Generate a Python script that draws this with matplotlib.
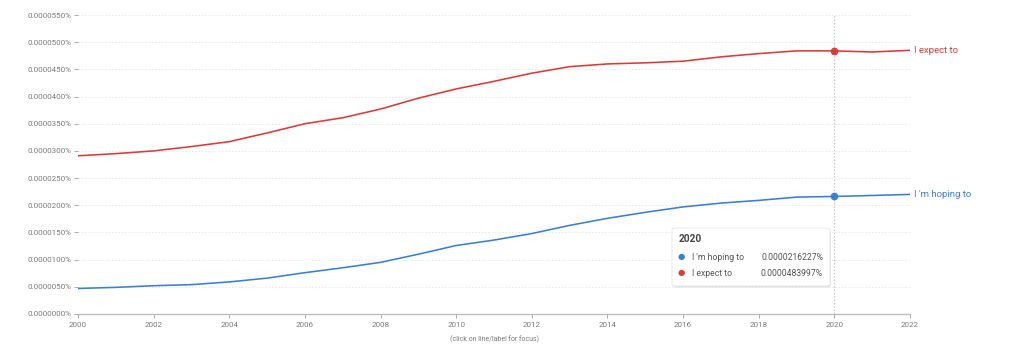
import matplotlib
matplotlib.use("Agg")
import matplotlib.pyplot as plt
from matplotlib.patches import FancyBboxPatch
from matplotlib.ticker import FuncFormatter, MultipleLocator

plt.rcParams['font.family'] = ['Roboto', 'DejaVu Sans']

years = list(range(2000, 2023))
expect_to = [0.0000291, 0.0000295, 0.0000300, 0.0000308, 0.0000317, 0.0000333,
             0.0000350, 0.0000361, 0.0000377, 0.0000397, 0.0000414, 0.0000428,
             0.0000443, 0.0000455, 0.0000460, 0.0000462, 0.0000465, 0.0000473,
             0.0000479, 0.0000484, 0.0000483997, 0.0000482, 0.0000485]
hoping_to = [0.0000047, 0.0000049, 0.0000052, 0.0000054, 0.0000059, 0.0000066,
             0.0000076, 0.0000085, 0.0000095, 0.0000110, 0.0000126, 0.0000136,
             0.0000148, 0.0000163, 0.0000176, 0.0000187, 0.0000197, 0.0000204,
             0.0000209, 0.0000215, 0.0000216227, 0.0000218, 0.0000220]
series_names = ["I 'm hoping to", "I expect to"]
focus_year = 2020
x_ticks = list(range(2000, 2023, 2))

RED = '#db3a3a'
BLUE = '#3a7fd6'
GRAY = '#7a7a7a'

fig = plt.figure(figsize=(10.24, 3.59), dpi=100)
ax = fig.add_axes([78/1024, 45/359, (910-78)/1024, (314-15)/359])

ax.plot(years, hoping_to, color=BLUE, lw=1.15, solid_joinstyle='round',
        solid_capstyle='round')
ax.plot(years, expect_to, color=RED, lw=1.15, solid_joinstyle='round',
        solid_capstyle='round')

fi = years.index(focus_year)
ax.axvline(focus_year, color='#c8c8c8', lw=0.8, ls=(0, (1.5, 1.5)), zorder=1)
ax.plot([focus_year], [hoping_to[fi]], 'o', color=BLUE, ms=4.5, zorder=5)
ax.plot([focus_year], [expect_to[fi]], 'o', color=RED, ms=4.5, zorder=5)

ax.set_xlim(2000, 2022)
ax.set_ylim(0, 0.000055)
ax.yaxis.set_major_locator(MultipleLocator(0.000005))
ax.yaxis.set_major_formatter(FuncFormatter(lambda v, p: f"{v:.7f}%"))
ax.set_xticks(x_ticks)
ax.set_xticklabels([str(t) for t in x_ticks])

for s in ['top', 'right', 'left']:
    ax.spines[s].set_visible(False)
ax.spines['bottom'].set_color('#bdbdbd')
ax.spines['bottom'].set_linewidth(1.0)

ax.tick_params(axis='y', length=3, width=0.6, color='#9e9e9e', labelsize=5.8,
               labelcolor=GRAY, pad=2)
ax.tick_params(axis='x', length=3, width=0.6, color='#9e9e9e', labelsize=5.8,
               labelcolor=GRAY, pad=3)
ax.grid(axis='y', color='#e6e6e6', lw=0.6, ls=(0, (2, 2)))
ax.set_axisbelow(True)

ax.text(2022.1, expect_to[-1], series_names[1], color=RED, fontsize=6.8,
        va='center', ha='left')
ax.text(2022.1, hoping_to[-1], series_names[0], color=BLUE, fontsize=6.8,
        va='center', ha='left')

fig.text(494/1024, 1 - 339/359, "(click on line/label for focus)", fontsize=5,
         color=GRAY, ha='center', va='center')

# tooltip box
bx0, by0, bw, bh = 672/1024, 1 - 286/359, (830-672)/1024, (286-228)/359
shadow = FancyBboxPatch((bx0 + 0.0008, by0 - 0.004), bw, bh,
                        boxstyle="round,pad=0,rounding_size=0.004",
                        transform=fig.transFigure, fc='#d9d9d9', ec='none',
                        alpha=0.7, zorder=10)
fig.patches.append(shadow)
box = FancyBboxPatch((bx0, by0), bw, bh,
                     boxstyle="round,pad=0,rounding_size=0.004",
                     transform=fig.transFigure, fc='white', ec='#e0e0e0',
                     lw=0.5, zorder=11)
fig.patches.append(box)
fig.text(679/1024, 1 - 239/359, str(focus_year), fontsize=7.3, fontweight='bold',
         color='#444444', va='center', ha='left', zorder=12)
rows = [(series_names[0], hoping_to[fi], BLUE, 257),
        (series_names[1], expect_to[fi], RED, 273)]
for name, val, col, ypix in rows:
    fig.text(681/1024, 1 - ypix/359, "\u25CF", fontsize=6, color=col,
             va='center', ha='center', zorder=12,
             family=['DejaVu Sans'])
    fig.text(692/1024, 1 - ypix/359, name, fontsize=6.2, color='#555555',
             va='center', ha='left', zorder=12)
    fig.text(823/1024, 1 - ypix/359, f"{val:.10f}%", fontsize=6.2,
             color='#555555', va='center', ha='right', zorder=12)

fig.savefig("out.png", dpi=100)
